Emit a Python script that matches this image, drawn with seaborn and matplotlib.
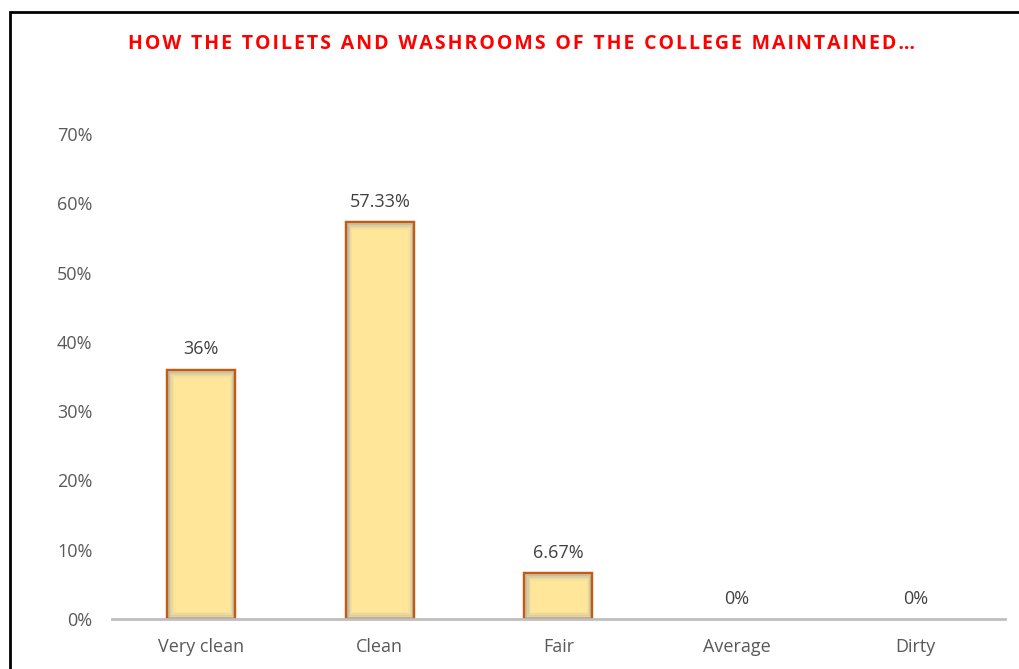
import matplotlib
matplotlib.use("Agg")
import matplotlib.pyplot as plt
import seaborn as sns
import pandas as pd
from matplotlib.patches import Rectangle
from matplotlib.ticker import PercentFormatter

# data
categories = ["Very clean", "Clean", "Fair", "Average", "Dirty"]
shares = [0.36, 0.5733, 0.0667, 0.0, 0.0]
labels = ["36%", "57.33%", "6.67%", "0%", "0%"]

df = pd.DataFrame({"Category": categories, "Share": shares})

sns.set_style("white")
plt.rcParams["font.family"] = ["Open Sans", "DejaVu Sans"]

fig = plt.figure(figsize=(10.2, 6.69), dpi=100)
ax = fig.add_axes([0.1098, 0.0747, 0.8752, 0.725])

sns.barplot(data=df, x="Category", y="Share", ax=ax, color="#FFE699",
            width=0.38, edgecolor="#C55A11", linewidth=1.6, saturation=1)

# soft inner shading like the original bars
for p in ax.patches:
    if p.get_height() <= 0:
        p.set_edgecolor("none")
        continue
    x0, y0 = p.get_x(), p.get_y()
    w, h = p.get_width(), p.get_height()
    for i, a in enumerate([0.35, 0.22, 0.12, 0.06]):
        dx = 0.006 * (i + 1)
        dy = 0.0022 * (i + 1)
        if h - 2 * dy <= 0:
            break
        ax.add_patch(Rectangle((x0 + dx, y0 + dy), w - 2 * dx, h - 2 * dy,
                               fill=False, edgecolor="#8E9CB0", alpha=a,
                               linewidth=2.2, zorder=p.get_zorder() + 0.1))
    ax.add_patch(Rectangle((x0, y0), w, h, fill=False, edgecolor="#C55A11",
                           linewidth=1.6, zorder=p.get_zorder() + 0.2))

ax.bar_label(ax.containers[0], labels=labels, padding=8, fontsize=13,
             color="#404040")

ax.set_ylim(0, 0.70)
ax.set_xlim(-0.5, 4.5)
ax.set_yticks([0, 0.1, 0.2, 0.3, 0.4, 0.5, 0.6, 0.7])
ax.yaxis.set_major_formatter(PercentFormatter(1.0, decimals=0))
ax.set_xlabel("")
ax.set_ylabel("")
ax.tick_params(axis="y", length=0, pad=14, labelsize=13, labelcolor="#595959")
ax.tick_params(axis="x", length=0, pad=14, labelsize=13, labelcolor="#595959")

for s in ["left", "right", "top"]:
    ax.spines[s].set_visible(False)
ax.spines["bottom"].set_color("#BFBFBF")
ax.spines["bottom"].set_linewidth(2)

title = "HOW THE TOILETS AND WASHROOMS OF THE COLLEGE MAINTAINED…"
spaced = "\u200a".join(title).replace("\u200a \u200a", "\u2002")
fig.text(0.511, 0.934, spaced, ha="center", va="center", color="#FF0000",
         fontsize=14, fontweight="bold")

# chart frame, cut off at the right and bottom
fig.patches.append(Rectangle((10 / 1020, -0.1), 1.2, 0.982 + 0.1,
                             transform=fig.transFigure, fill=False,
                             edgecolor="black", linewidth=2))

fig.savefig("out.png", dpi=100)
